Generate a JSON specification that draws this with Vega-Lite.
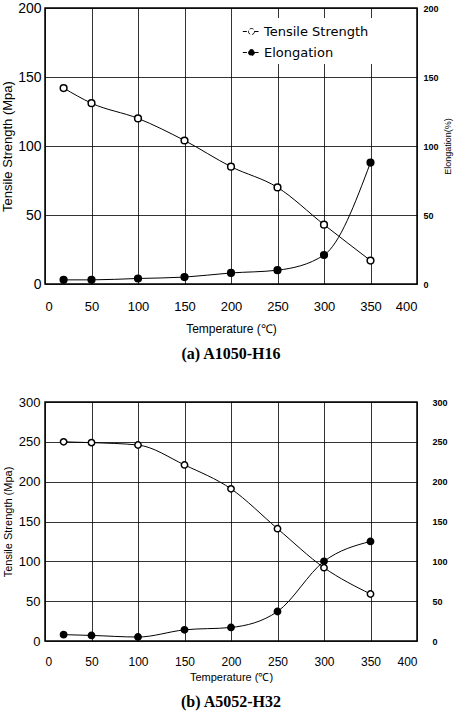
{
  "$schema": "https://vega.github.io/schema/vega-lite/v6.json",
  "background": "white",
  "padding": {"left": 0, "top": 0, "right": 2, "bottom": 2},
  "datasets": {
    "a": [
      {"T": 20, "series": "Tensile Strength", "v": 142},
      {"T": 50, "series": "Tensile Strength", "v": 131},
      {"T": 100, "series": "Tensile Strength", "v": 120},
      {"T": 150, "series": "Tensile Strength", "v": 104},
      {"T": 200, "series": "Tensile Strength", "v": 85},
      {"T": 250, "series": "Tensile Strength", "v": 70},
      {"T": 300, "series": "Tensile Strength", "v": 43},
      {"T": 350, "series": "Tensile Strength", "v": 17},
      {"T": 20, "series": "Elongation", "v": 3},
      {"T": 50, "series": "Elongation", "v": 3},
      {"T": 100, "series": "Elongation", "v": 4},
      {"T": 150, "series": "Elongation", "v": 5},
      {"T": 200, "series": "Elongation", "v": 8},
      {"T": 250, "series": "Elongation", "v": 10},
      {"T": 300, "series": "Elongation", "v": 21},
      {"T": 350, "series": "Elongation", "v": 88}
    ],
    "b": [
      {"T": 20, "series": "Tensile Strength", "v": 250},
      {"T": 50, "series": "Tensile Strength", "v": 249},
      {"T": 100, "series": "Tensile Strength", "v": 246},
      {"T": 150, "series": "Tensile Strength", "v": 221},
      {"T": 200, "series": "Tensile Strength", "v": 191},
      {"T": 250, "series": "Tensile Strength", "v": 141},
      {"T": 300, "series": "Tensile Strength", "v": 92},
      {"T": 350, "series": "Tensile Strength", "v": 59},
      {"T": 20, "series": "Elongation", "v": 8},
      {"T": 50, "series": "Elongation", "v": 7},
      {"T": 100, "series": "Elongation", "v": 5},
      {"T": 150, "series": "Elongation", "v": 14},
      {"T": 200, "series": "Elongation", "v": 17},
      {"T": 250, "series": "Elongation", "v": 37},
      {"T": 300, "series": "Elongation", "v": 100},
      {"T": 350, "series": "Elongation", "v": 125}
    ]
  },
  "config": {
    "view": {"stroke": "black", "strokeWidth": 1.5},
    "font": "Liberation Sans",
    "axis": {
      "labelColor": "black",
      "titleColor": "black",
      "ticks": false,
      "domain": false,
      "gridColor": "black",
      "gridWidth": 0.8,
      "gridOpacity": 1,
      "titleFontWeight": "normal",
      "labelFont": "Liberation Sans",
      "titleFont": "Liberation Sans"
    },
    "legend": {"labelColor": "black", "labelFont": "Liberation Sans"},
    "title": {"font": "Liberation Serif", "fontSize": 16, "fontWeight": "bold", "color": "black", "frame": "group"}
  },
  "spacing": 32,
  "vconcat": [
    {
      "width": 372,
      "height": 276,
      "title": {"text": "(a) A1050-H16", "orient": "bottom", "offset": 12},
      "data": {"name": "a"},
      "encoding": {
        "x": {
          "field": "T", "type": "quantitative",
          "scale": {"domain": [0, 400], "nice": false},
          "axis": {"values": [0, 50, 100, 150, 200, 250, 300, 350, 400], "grid": true, "title": "Temperature (℃)", "labelFontSize": 13, "labelPadding": 16, "titleFontSize": 12, "titlePadding": 10}
        }
      },
      "layer": [
        {
          "transform": [{"filter": "datum.series == 'Tensile Strength'"}],
          "encoding": {
            "y": {
              "field": "v", "type": "quantitative",
              "scale": {"domain": [0, 200], "nice": false},
              "axis": {"orient": "left", "values": [0, 50, 100, 150, 200], "grid": true, "title": "Tensile Strength (Mpa)", "labelFontSize": 14, "titleFontSize": 13, "labelPadding": 4, "titlePadding": 3}
            }
          },
          "layer": [
            {"mark": {"type": "line", "interpolate": "monotone", "color": "black", "strokeWidth": 1}},
            {
              "mark": {"type": "point", "shape": "circle", "size": 45, "stroke": "black", "strokeWidth": 1.5, "opacity": 1},
              "encoding": {
                "fill": {
                  "field": "series", "type": "nominal",
                  "scale": {"domain": ["Tensile Strength", "Elongation"], "range": ["white", "black"]},
                  "legend": {"orient": "none", "legendX": 193, "legendY": 10, "title": null, "fillColor": "white", "padding": 4, "symbolType": "M-1,0L-0.35,0M0.35,0L1,0M0.35,0A0.35,0.35 0 1,1 -0.35,0A0.35,0.35 0 1,1 0.35,0Z", "symbolSize": 300, "symbolStrokeColor": "black", "symbolStrokeWidth": 1, "labelFontSize": 13, "rowPadding": 4, "labelOffset": 3}
                }
              }
            }
          ]
        },
        {
          "transform": [{"filter": "datum.series == 'Elongation'"}],
          "encoding": {
            "y": {
              "field": "v", "type": "quantitative",
              "scale": {"domain": [0, 200], "nice": false},
              "axis": {"orient": "right", "values": [0, 50, 100, 150, 200], "grid": false, "title": "Elongation(%)", "titleAngle": 270, "titleBaseline": "bottom", "labelFontSize": 9, "labelFontWeight": "bold", "titleFontSize": 9, "labelPadding": 6, "titlePadding": 14}
            }
          },
          "layer": [
            {"mark": {"type": "line", "interpolate": "monotone", "color": "black", "strokeWidth": 1}},
            {
              "mark": {"type": "point", "shape": "circle", "size": 45, "stroke": "black", "strokeWidth": 1.5, "opacity": 1},
              "encoding": {
                "fill": {
                  "field": "series", "type": "nominal",
                  "scale": {"domain": ["Tensile Strength", "Elongation"], "range": ["white", "black"]}
                }
              }
            }
          ]
        }
      ],
      "resolve": {"scale": {"y": "independent"}}
    },
    {
      "width": 372,
      "height": 239,
      "title": {"text": "(b) A5052-H32", "orient": "bottom", "offset": 12},
      "data": {"name": "b"},
      "encoding": {
        "x": {
          "field": "T", "type": "quantitative",
          "scale": {"domain": [0, 400], "nice": false},
          "axis": {"values": [0, 50, 100, 150, 200, 250, 300, 350, 400], "grid": true, "title": "Temperature (℃)", "labelFontSize": 12, "labelPadding": 15, "titleFontSize": 11, "titlePadding": 4}
        }
      },
      "layer": [
        {
          "transform": [{"filter": "datum.series == 'Tensile Strength'"}],
          "encoding": {
            "y": {
              "field": "v", "type": "quantitative",
              "scale": {"domain": [0, 300], "nice": false},
              "axis": {"orient": "left", "values": [0, 50, 100, 150, 200, 250, 300], "grid": true, "title": "Tensile Strength (Mpa)", "labelFontSize": 13, "titleFontSize": 11, "labelPadding": 5, "titlePadding": 5}
            }
          },
          "layer": [
            {"mark": {"type": "line", "interpolate": "monotone", "color": "black", "strokeWidth": 1}},
            {
              "mark": {"type": "point", "shape": "circle", "size": 40, "stroke": "black", "strokeWidth": 1.5, "opacity": 1},
              "encoding": {
                "fill": {
                  "field": "series", "type": "nominal",
                  "scale": {"domain": ["Tensile Strength", "Elongation"], "range": ["white", "black"]},
                  "legend": {"orient": "none", "legendX": 210, "legendY": 6, "title": null, "fillColor": "white", "padding": 3, "symbolType": "M-1,0L-0.28,0M0.28,0L1,0M0.28,0A0.28,0.28 0 1,1 -0.28,0A0.28,0.28 0 1,1 0.28,0Z", "symbolSize": 400, "symbolStrokeColor": "black", "symbolStrokeWidth": 1, "symbolDash": [4, 2], "labelFont": "DejaVu Sans", "labelFontSize": 11, "rowPadding": -1, "labelOffset": 4}
                }
              }
            }
          ]
        },
        {
          "transform": [{"filter": "datum.series == 'Elongation'"}],
          "encoding": {
            "y": {
              "field": "v", "type": "quantitative",
              "scale": {"domain": [0, 300], "nice": false},
              "axis": {"orient": "right", "values": [0, 50, 100, 150, 200, 250, 300], "grid": false, "title": null, "labelFontSize": 9, "labelFontWeight": "bold", "labelPadding": 15}
            }
          },
          "layer": [
            {"mark": {"type": "line", "interpolate": "monotone", "color": "black", "strokeWidth": 1}},
            {
              "mark": {"type": "point", "shape": "circle", "size": 40, "stroke": "black", "strokeWidth": 1.5, "opacity": 1},
              "encoding": {
                "fill": {
                  "field": "series", "type": "nominal",
                  "scale": {"domain": ["Tensile Strength", "Elongation"], "range": ["white", "black"]}
                }
              }
            }
          ]
        }
      ],
      "resolve": {"scale": {"y": "independent"}}
    }
  ]
}
